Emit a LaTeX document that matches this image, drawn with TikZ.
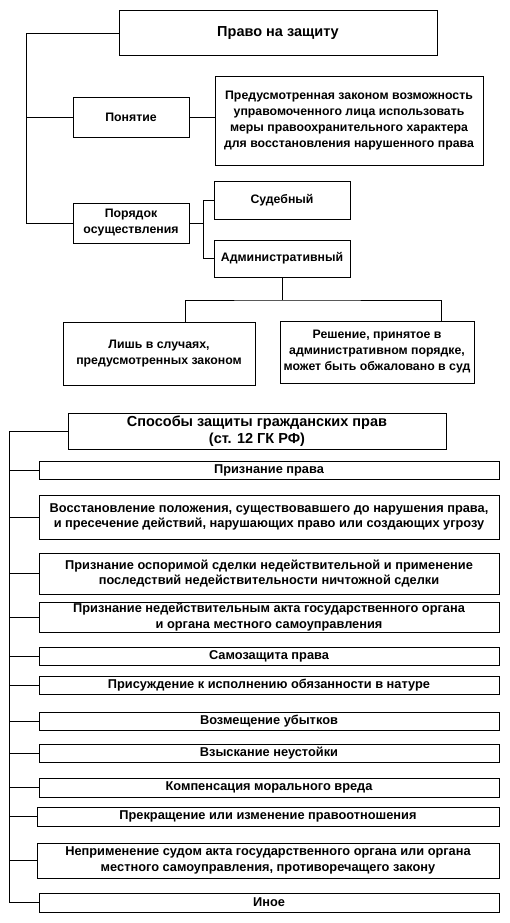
\documentclass[tikz,border=0pt]{standalone}
\usepackage{fontspec}
\setmainfont{Liberation Sans}
\usepackage{tikz}
\usetikzlibrary{positioning}
\newcommand{\boxfont}{\bfseries\fontsize{12.3}{16}\selectfont}
\newcommand{\itemfont}{\bfseries\fontsize{12.8}{15.5}\selectfont}
\newcommand{\headfont}{\bfseries\fontsize{14.5}{17}\selectfont}
\tikzstyle{box}=[draw, line width=1pt, inner sep=0, outer sep=0, align=center, font=\boxfont]
\tikzstyle{head}=[box, font=\headfont]
\tikzstyle{item}=[box, minimum width=460pt, font=\itemfont]
\tikzstyle{link}=[line width=0.8pt]
\tikzstyle{scheme}=[x=1pt, y=-1pt,
                    % Fix the page to the size of the scan.
                    execute at begin picture={\useasboundingbox (0, 0) rectangle (509, 923);}]

\begin{document}
\begin{tikzpicture}[scheme]
        % Upper part.
        \node[head, minimum width=318pt, minimum height=45pt] (top) at (278, 33.5) {Право на защиту};
        \node[box, minimum width=116pt, minimum height=39pt] (concept) at (131, 117.5) {Понятие};
        \node[box, minimum width=268pt, minimum height=88pt] (meaning) at (349, 121)
            {Предусмотренная законом возможность\\управомоченного лица использовать\\меры правоохранительного характера\\для восстановления нарушенного права};
        \node[box, minimum width=116pt, minimum height=40pt] (order) at (131, 223)
            {Порядок\\осуществления};
        \node[box, minimum width=136pt, minimum height=38pt] (court) at (282, 200) {Судебный};
        \node[box, minimum width=136pt, minimum height=37pt] (admin) at (282, 258.5) {Административный};
        \node[box, minimum width=192pt, minimum height=63pt] (cases) at (159, 353.5)
            {Лишь в случаях,\\предусмотренных законом};
        \node[box, minimum width=194pt, minimum height=62pt] (appeal) at (377, 352)
            {Решение, принятое в\\административном порядке,\\может быть обжаловано в суд};
        \coordinate (trunk) at (26, 0);
        \coordinate (fork) at (203, 0);
        \coordinate (split) at (282, 300);
        \draw[link] (top.west) -| (trunk |- order.west) -- (order.west);
        \draw[link] (concept.west) -- (trunk |- concept.west);
        \draw[link] (concept.east) -- (concept.east -| meaning.west);
        \draw[link] (order.east) -- (fork |- order.east);
        \draw[link] (court.west) -| (fork |- admin.west) -- (admin.west);
        \draw[link] (admin.south) -- (split);
        \draw[link] ([xshift=26pt]cases.north) |- (split) -| ([xshift=64pt]appeal.north);
        % Lower part.
        \node[head, minimum width=378pt, minimum height=36pt] (ways) at (257, 431)
            {Способы защиты гражданских прав\\(ст. 12 ГК РФ)};
        \node[item, minimum height=18pt] (i1) at (269, 470) {Признание права};
        \node[item, minimum height=44pt] (i2) at (269, 517)
            {Восстановление положения, существовавшего до нарушения права,\\и пресечение действий, нарушающих право или создающих угрозу};
        \node[item, minimum height=41pt] (i3) at (269, 573.5)
            {Признание оспоримой сделки недействительной и применение\\последствий недействительности ничтожной сделки};
        \node[item, minimum height=30pt] (i4) at (269, 617)
            {Признание недействительным акта государственного органа\\и органа местного самоуправления};
        \node[item, minimum height=18pt] (i5) at (269, 656) {Самозащита права};
        \node[item, minimum height=18pt] (i6) at (269, 685) {Присуждение к исполнению обязанности в натуре};
        \node[item, minimum height=18pt] (i7) at (269, 721) {Возмещение убытков};
        \node[item, minimum height=18pt] (i8) at (269, 753) {Взыскание неустойки};
        \node[item, minimum height=19pt] (i9) at (269, 787.5) {Компенсация морального вреда};
        \node[item, minimum width=462pt, minimum height=19pt] (i10) at (268, 816.5) {Прекращение или изменение правоотношения};
        \node[item, minimum width=462pt, minimum height=35pt] (i11) at (268, 860.5)
            {Неприменение судом акта государственного органа или органа\\местного самоуправления, противоречащего закону};
        \node[item, minimum height=19pt] (i12) at (269, 902.5) {Иное};
        \coordinate (spine) at (9, 0);
        \draw[link] (ways.west) -| (spine |- i12.west) -- (i12.west);
        \foreach \i in {1,...,11}
            \draw[link] (i\i.west) -- (spine |- i\i.west);
    \end{tikzpicture}
\end{document}
